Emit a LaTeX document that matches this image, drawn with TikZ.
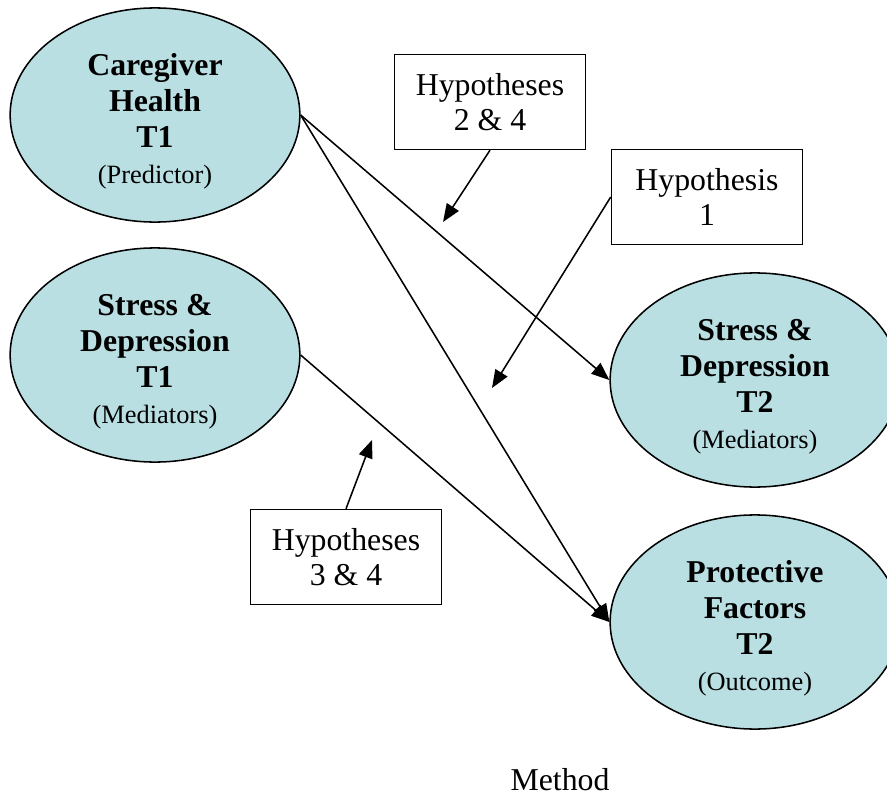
\documentclass[tikz,border=0pt]{standalone}
\usepackage{fontspec}
\setmainfont{Liberation Serif}
\usetikzlibrary{shapes.geometric,arrows.meta}
\pgfdeclarelayer{bg}
\pgfsetlayers{bg,main}
\definecolor{paleteal}{RGB}{185,223,227}
\newcommand{\toppad}{\rule{0pt}{13.5pt}}
\newcommand{\rolefont}{\mdseries\fontsize{10.3}{12}\selectfont}

\begin{document}
\begin{tikzpicture}[x=0.39pt,y=-0.39pt,
        factor/.style={ellipse, draw, line width=0.6pt, fill=paleteal, minimum width=113pt, minimum height=83.5pt, inner sep=0pt, align=center, font=\fontsize{12.4}{14}\selectfont\bfseries},
        hypbox/.style={rectangle, draw, line width=0.6pt, fill=white, minimum width=74.5pt, minimum height=37pt, inner sep=0pt, align=center, font=\fontsize{12.4}{13.5}\selectfont},
        link/.style={line width=0.6pt, -{Triangle[length=7pt,width=5.5pt]}}]
        \useasboundingbox (0,0) rectangle (887,796);
        \node (e1) [factor] at (155,115) {\toppad Caregiver\\Health\\T1\\{\rolefont (Predictor)}};
        \node (e2) [factor] at (155,355) {\toppad Stress \&\\Depression\\T1\\{\rolefont (Mediators)}};
        \node (e3) [factor] at (755,380) {\toppad Stress \&\\Depression\\T2\\{\rolefont (Mediators)}};
        \node (e4) [factor] at (755,622) {\toppad Protective\\Factors\\T2\\{\rolefont (Outcome)}};
        \node (h24) [hypbox] at (490,102) {Hypotheses\\2 \& 4};
        \node (h1) [hypbox] at (707,197) {Hypothesis\\1};
        \node (h34) [hypbox] at (346,557) {Hypotheses\\3 \& 4};
        \node (method) [font=\fontsize{12.4}{14}\selectfont] at (560,780) {Method};
        \coordinate (t24) at (443,222);
        \coordinate (t1) at (492,388);
        \coordinate (t34) at (372,440);
        \begin{pgfonlayer}{bg}
                \draw (e1.east) edge [link] (e3.west);
                \draw (e1.east) edge [link] (e4.west);
                \draw (e2.east) edge [link] (e4.west);
                \draw (h24.south) edge [link] (t24);
                \draw (h1.west) edge [link] (t1);
                \draw (h34.north) edge [link] (t34);
        \end{pgfonlayer}
\end{tikzpicture}
\end{document}
